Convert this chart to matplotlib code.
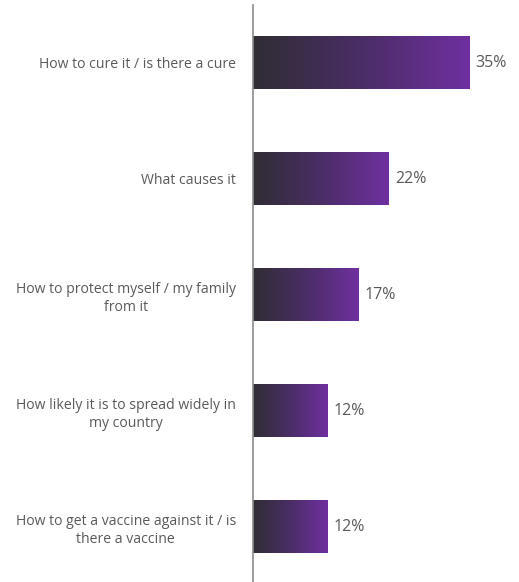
import numpy as np
import matplotlib
matplotlib.use("Agg")
import matplotlib.pyplot as plt
from matplotlib.colors import LinearSegmentedColormap

questions = [
    "How to cure it / is there a cure",
    "What causes it",
    "How to protect myself / my family\nfrom it",
    "How likely it is to spread widely in\nmy country",
    "How to get a vaccine against it / is\nthere a vaccine",
]
shares = [35, 22, 17, 12, 12]

TEXT_GREY = "#595959"
bar_cmap = LinearSegmentedColormap.from_list("dark_purple", ["#302e34", "#4a2d66", "#7030a0"])

plt.rcParams["font.family"] = ["Open Sans", "DejaVu Sans"]

fig = plt.figure(figsize=(5.19, 5.82), dpi=100)
ax = fig.add_axes([252.5 / 519, 0.0, 1 - 252.5 / 519, 577 / 582])

bar_h = 0.45
gradient = np.linspace(0, 1, 256).reshape(1, -1)
for i, val in enumerate(shares):
    ax.imshow(gradient, cmap=bar_cmap, aspect="auto", interpolation="bilinear",
              extent=(0, val, i + bar_h / 2, i - bar_h / 2), zorder=2)
    ax.text(val + 1.1, i, f"{val}%", ha="left", va="center",
            fontsize=11.5, color=TEXT_GREY)

ax.set_xlim(0, 266.5 / 6.18)
ax.set_ylim(-0.5 + 577 / 116, -0.5)

ax.set_yticks(range(len(questions)))
ax.set_yticklabels(questions, fontsize=10.1, color=TEXT_GREY,
                   multialignment="center", linespacing=1.25)
ax.tick_params(axis="y", length=0, pad=12)
ax.set_xticks([])

for side in ["top", "right", "bottom"]:
    ax.spines[side].set_visible(False)
ax.spines["left"].set_color("#8c8c8c")
ax.spines["left"].set_linewidth(1.2)

fig.savefig("out.png", dpi=100)
